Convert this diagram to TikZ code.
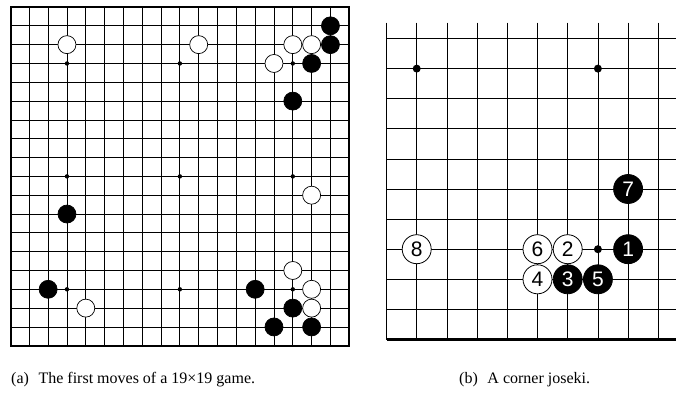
\documentclass[tikz,border=0pt]{standalone}
\usepackage{fontspec}
\setmainfont{Liberation Serif}
\newfontfamily\stonefont{Liberation Sans}
\tikzset{
  gridline/.style={line width=0.8pt, black},
  frameline/.style={line width=2pt, black},
  edgeline/.style={line width=2.4pt, black},
  sbstone/.style={circle, fill=black, draw=black, line width=0.7pt, minimum size=18pt, inner sep=0pt},
  swstone/.style={circle, fill=white, draw=black, line width=0.7pt, minimum size=18pt, inner sep=0pt},
  bbstone/.style={circle, fill=black, draw=black, line width=0.8pt, minimum size=29pt, inner sep=0pt, text=white, font=\stonefont\fontsize{21}{21}\selectfont},
  bwstone/.style={circle, fill=white, draw=black, line width=0.8pt, minimum size=29pt, inner sep=0pt, text=black, font=\stonefont\fontsize{21}{21}\selectfont},
  shoshi/.style={circle, fill=black, inner sep=0pt, minimum size=4.4pt},
  bhoshi/.style={circle, fill=black, inner sep=0pt, minimum size=8pt},
  captiontext/.style={anchor=base west, inner sep=0pt, font=\fontsize{16}{18}\selectfont},
}
\begin{document}
\begin{tikzpicture}[x=1pt,y=-1pt]
\useasboundingbox (0,0) rectangle (676,394);
% ---------- left board ----------
\def\lx{10.5}\def\ly{7}\def\ls{18.82}
\foreach \i in {1,...,17}{
  \draw[gridline] (\lx+\i*\ls,\ly) -- (\lx+\i*\ls,\ly+18*\ls);
  \draw[gridline] (\lx,\ly+\i*\ls) -- (\lx+18*\ls,\ly+\i*\ls);
}
\draw[frameline] (\lx,\ly) rectangle (\lx+18*\ls,\ly+18*\ls);
\foreach \c/\r [count=\k] in {4/4,10/4,16/4,4/10,10/10,16/10,4/16,10/16,16/16}
  \node[shoshi] (lh\k) at (\lx+\c*\ls-\ls,\ly+\r*\ls-\ls) {};
\foreach \c/\r [count=\k] in {18/2,18/3,17/4,16/6,4/12,3/16,14/16,16/17,15/18,17/18}
  \node[sbstone] (lb\k) at (\lx+\c*\ls-\ls,\ly+\r*\ls-\ls) {};
\foreach \c/\r [count=\k] in {4/3,11/3,16/3,17/3,15/4,17/11,16/15,17/16,5/17,17/17}
  \node[swstone] (lw\k) at (\lx+\c*\ls-\ls,\ly+\r*\ls-\ls) {};
% ---------- right board ----------
\def\rx{386.5}\def\ry{38.5}\def\rsx{30.2}\def\rsy{30.1}
\foreach \i in {0,...,9}
  \draw[gridline] (\rx+\i*\rsx,22.5) -- (\rx+\i*\rsx,\ry+10*\rsy);
\foreach \j in {0,...,9}
  \draw[gridline] (\rx,\ry+\j*\rsy) -- (676,\ry+\j*\rsy);
\draw[edgeline] (\rx,\ry+10*\rsy) -- (676,\ry+10*\rsy);
\foreach \c/\r [count=\k] in {1/1,7/1,7/7}
  \node[bhoshi] (rh\k) at (\rx+\c*\rsx,\ry+\r*\rsy) {};
\node[bbstone] (m1) at (\rx+8*\rsx,\ry+7*\rsy) {1};
\node[bwstone] (m2) at (\rx+6*\rsx,\ry+7*\rsy) {2};
\node[bbstone] (m3) at (\rx+6*\rsx,\ry+8*\rsy) {3};
\node[bwstone] (m4) at (\rx+5*\rsx,\ry+8*\rsy) {4};
\node[bbstone] (m5) at (\rx+7*\rsx,\ry+8*\rsy) {5};
\node[bwstone] (m6) at (\rx+5*\rsx,\ry+7*\rsy) {6};
\node[bbstone] (m7) at (\rx+8*\rsx,\ry+5*\rsy) {7};
\node[bwstone] (m8) at (\rx+1*\rsx,\ry+7*\rsy) {8};
% ---------- captions ----------
\node[captiontext] (capa) at (11,383) {(a)\hspace{0.6em}The first moves of a 19×19 game.};
\node[captiontext] (capb) at (459,383) {(b)\hspace{0.6em}A corner joseki.};
\end{tikzpicture}
\end{document}
